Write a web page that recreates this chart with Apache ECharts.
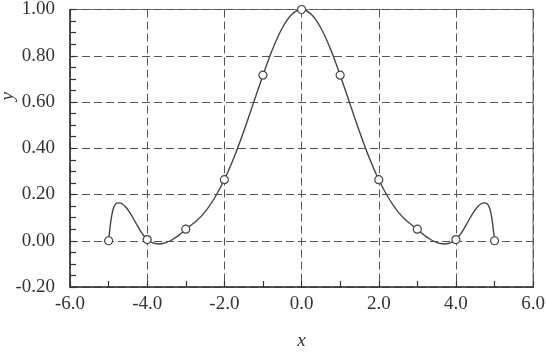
<!DOCTYPE html>
<html>
<head>
<meta charset="utf-8">
<script src="https://cdn.jsdelivr.net/npm/echarts@6/dist/echarts.min.js"></script>
<style>html,body{margin:0;padding:0;background:#fff;}#c{width:548px;height:355px;}</style>
</head>
<body>
<div id="c"></div>
<script>
// Interpolation nodes (circles)
var nodeX = [-5, -4, -3, -2, -1, 0, 1, 2, 3, 4, 5];
var nodeY = [0.000, 0.005, 0.050, 0.264, 0.716, 1.000, 0.716, 0.264, 0.050, 0.005, 0.000];

// Interpolating curve
var curveX = [-5.0, -4.95, -4.9, -4.85, -4.8, -4.75, -4.65, -4.55, -4.45, -4.35, -4.25, -4.15, -4.05, -4.0,
  -3.9, -3.8, -3.7, -3.6, -3.5, -3.4, -3.3, -3.2, -3.1, -3.0, -2.75, -2.5, -2.25, -2.0, -1.75, -1.5, -1.25,
  -1.0, -0.75, -0.5, -0.25, 0.0, 0.25, 0.5, 0.75, 1.0, 1.25, 1.5, 1.75, 2.0, 2.25, 2.5, 2.75, 3.0,
  3.1, 3.2, 3.3, 3.4, 3.5, 3.6, 3.7, 3.8, 3.9, 4.0, 4.05, 4.15, 4.25, 4.35, 4.45, 4.55, 4.65, 4.75,
  4.8, 4.85, 4.9, 4.95, 5.0];
var curveY = [0.000, 0.075, 0.125, 0.150, 0.161, 0.164, 0.160, 0.145, 0.122, 0.094, 0.064, 0.036, 0.014, 0.005,
  -0.006, -0.012, -0.014, -0.012, -0.007, 0.000, 0.010, 0.021, 0.035, 0.050, 0.082, 0.125, 0.186, 0.264, 0.360, 0.472, 0.594,
  0.716, 0.829, 0.920, 0.979, 1.000, 0.979, 0.920, 0.829, 0.716, 0.594, 0.472, 0.360, 0.264, 0.186, 0.125, 0.082, 0.050,
  0.035, 0.021, 0.010, 0.000, -0.007, -0.012, -0.014, -0.012, -0.006, 0.005, 0.014, 0.036, 0.064, 0.094, 0.122, 0.145, 0.160, 0.164,
  0.161, 0.150, 0.125, 0.075, 0.000];

var xTicks = {min: -6, max: 6, step: 2};
var yTicks = {min: -0.2, max: 1.0, step: 0.2};

var curveData = curveX.map(function (x, i) { return [x, curveY[i]]; });
var nodeData = nodeX.map(function (x, i) { return [x, nodeY[i]]; });

var FONT = '"Liberation Serif", "Times New Roman", serif';
var chart = echarts.init(document.getElementById('c'), null, {renderer: 'canvas'});
chart.setOption({
  animation: false,
  backgroundColor: '#fff',
  grid: {left: 70, right: 7, top: 9, bottom: 52, show: true, borderColor: '#777', borderWidth: 1.2, containLabel: false},
  xAxis: {
    type: 'value', min: xTicks.min, max: xTicks.max, interval: xTicks.step,
    name: 'x', nameLocation: 'middle', nameGap: 44,
    nameTextStyle: {fontFamily: FONT, fontStyle: 'italic', fontSize: 19, color: '#333'},
    axisLine: {show: true, onZero: false, lineStyle: {color: '#333', width: 1.5}},
    axisTick: {show: true, inside: true, length: 6, lineStyle: {color: '#333', width: 1.2}},
    minorTick: {show: true, splitNumber: 2, length: 6, lineStyle: {color: '#333', width: 1.2}},
    axisLabel: {fontFamily: FONT, fontSize: 19, color: '#333', margin: 8, showMinLabel: true, showMaxLabel: true,
      formatter: function (v) { return v.toFixed(1); }},
    splitLine: {show: true, lineStyle: {color: '#555', width: 1, type: [8, 4]}}
  },
  yAxis: {
    type: 'value', min: yTicks.min, max: yTicks.max, interval: yTicks.step,
    axisLine: {show: true, onZero: false, lineStyle: {color: '#333', width: 1.5}},
    axisTick: {show: true, inside: true, length: 6, lineStyle: {color: '#333', width: 1.2}},
    minorTick: {show: true, splitNumber: 4, length: 6, lineStyle: {color: '#333', width: 1.2}},
    axisLabel: {fontFamily: FONT, fontSize: 19, color: '#333', margin: 15,
      formatter: function (v) { return v.toFixed(2); }},
    splitLine: {show: true, lineStyle: {color: '#555', width: 1, type: [8, 4]}}
  },
  graphic: [{
    type: 'text', left: -2, top: 92, rotation: Math.PI / 2,
    style: {text: 'y', fontFamily: FONT, fontStyle: 'italic', fontSize: 19, fill: '#333'}
  }],
  series: [{
    type: 'line', data: curveData, smooth: 0.3, showSymbol: false, symbol: 'none',
    lineStyle: {color: '#444', width: 1.4}, z: 3
  }, {
    type: 'scatter', data: nodeData, symbol: 'circle', symbolSize: 8,
    itemStyle: {color: '#fff', borderColor: '#444', borderWidth: 1.2, opacity: 1}, z: 5
  }]
});
</script>
</body>
</html>
